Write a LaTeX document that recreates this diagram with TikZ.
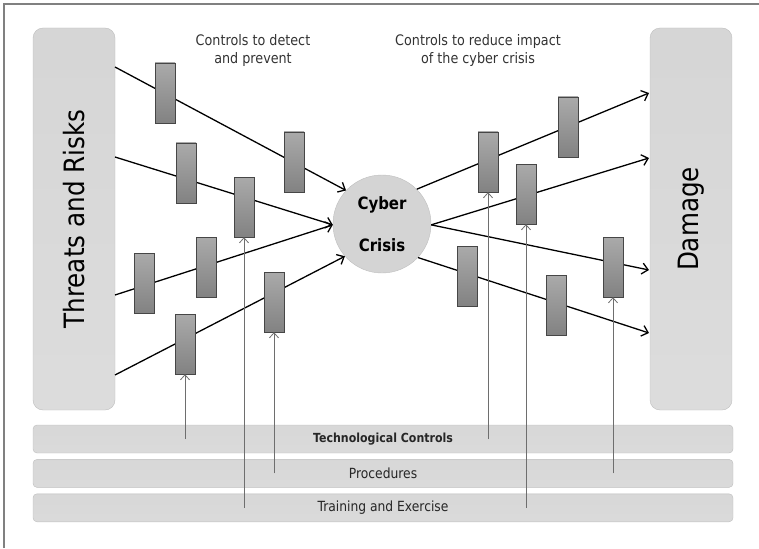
\documentclass[tikz,border=0pt]{standalone}
\usepackage{fontspec}
\setmainfont{DejaVu Sans}[FakeStretch=0.88]
\usepackage{tikz}
\usetikzlibrary{arrows.meta,positioning}
\definecolor{panelgray}{RGB}{210,210,210}
\definecolor{edgegray}{RGB}{190,190,190}
\definecolor{ctrltop}{RGB}{170,170,170}
\definecolor{ctrlbot}{RGB}{130,130,130}
\definecolor{ctrledge}{RGB}{70,70,70}
\definecolor{feedgray}{RGB}{110,110,110}

\begin{document}
\begin{tikzpicture}[
    x=1pt, y=-1pt,
    panel/.style={draw=edgegray, rounded corners=10pt, top color=panelgray!92, bottom color=panelgray!105!black, minimum width=82pt, minimum height=382pt, inner sep=0pt},
    layer/.style={draw=edgegray, rounded corners=4pt, top color=panelgray!88, bottom color=panelgray!104!black, minimum width=700pt, minimum height=28pt, inner sep=0pt, font=\fontsize{14}{16}\selectfont, text=black!85},
    ctrl/.style={draw=ctrledge, top color=ctrltop, bottom color=ctrlbot, minimum width=20pt, minimum height=60pt, inner sep=0pt},
    flow/.style={-{Straight Barb[length=6pt,width=11pt]}, line width=1.3pt},
    feed/.style={-{Straight Barb[length=5pt,width=9pt]}, feedgray, line width=0.8pt},
    note/.style={align=center, font=\fontsize{14.5}{18}\selectfont, text=black!80}
]
\useasboundingbox (0,0) rectangle (759,548);
\draw[gray, line width=1.3pt] (4,548) -- (4,4) -- (759,4);

% side panels and crisis
\node[panel] (threats) at (74,219) {};
\node[rotate=90, font=\fontsize{28}{32}\selectfont] at (threats) {Threats and Risks};
\node[panel] (damage) at (691,219) {};
\node[rotate=90, font=\fontsize{28}{32}\selectfont] at (damage) {Damage};
\node[circle, draw=edgegray, fill=panelgray!95, minimum size=98pt, inner sep=0pt, align=center,
      font=\fontsize{17}{42}\selectfont\bfseries] (crisis) at (382,224) {Cyber\\Crisis};

% control layers
\node[layer] (tech) at (383,439) {\fontsize{12.5}{14}\selectfont\bfseries Technological Controls};
\node[layer, below=6pt of tech] (proc) {Procedures};
\node[layer, below=6pt of proc] (train) {Training and Exercise};

\node[note] (detect) at (253,51) {Controls to detect\\and prevent};
\node[note] (reduce) at (478,51) {Controls to reduce impact\\of the cyber crisis};

% flows
\coordinate (thr1) at (115,67);
\coordinate (thr2) at (115,157);
\coordinate (thr3) at (115,295);
\coordinate (thr4) at (115,375);
\coordinate (dmg1) at (649,93);
\coordinate (dmg2) at (649,158);
\coordinate (dmg3) at (649,270);
\coordinate (dmg4) at (649,333);

\draw[flow] (thr1) -- (crisis.137);
\draw[flow] (thr2) -- (crisis.181);
\draw[flow] (thr3) -- (crisis.181);
\draw[flow] (thr4) -- (crisis.221);
\draw[flow] (crisis.45) -- (dmg1);
\draw[flow] (crisis.-1) -- (dmg2);
\draw[flow] (crisis.-1) -- (dmg3);
\draw[flow] (crisis.-43) -- (dmg4);

% controls on the flows
\node[ctrl] (ca) at (165,93) {};
\node[ctrl] (cb) at (294,162) {};
\node[ctrl] (cc) at (186,173) {};
\node[ctrl] (cd) at (244,207) {};
\node[ctrl] (ce) at (144,283) {};
\node[ctrl] (cf) at (206,267) {};
\node[ctrl] (cg) at (185,344) {};
\node[ctrl] (ch) at (274,302) {};
\node[ctrl] (ci) at (488,162) {};
\node[ctrl] (cj) at (568,127) {};
\node[ctrl] (ck) at (526,194) {};
\node[ctrl] (cl) at (613,267) {};
\node[ctrl] (cm) at (467,276) {};
\node[ctrl] (cn) at (556,305) {};

% feeds from the layers
\coordinate (fg) at (cg |- tech);
\coordinate (fd) at (cd |- train);
\coordinate (fh) at (ch |- proc);
\coordinate (fi) at (ci |- tech);
\coordinate (fk) at (ck |- train);
\coordinate (fl) at (cl |- proc);
\draw[feed] (fg) -- (cg);
\draw[feed] (fd) -- (cd);
\draw[feed] (fh) -- (ch);
\draw[feed] (fi) -- (ci);
\draw[feed] (fk) -- (ck);
\draw[feed] (fl) -- (cl);
\end{tikzpicture}
\end{document}
